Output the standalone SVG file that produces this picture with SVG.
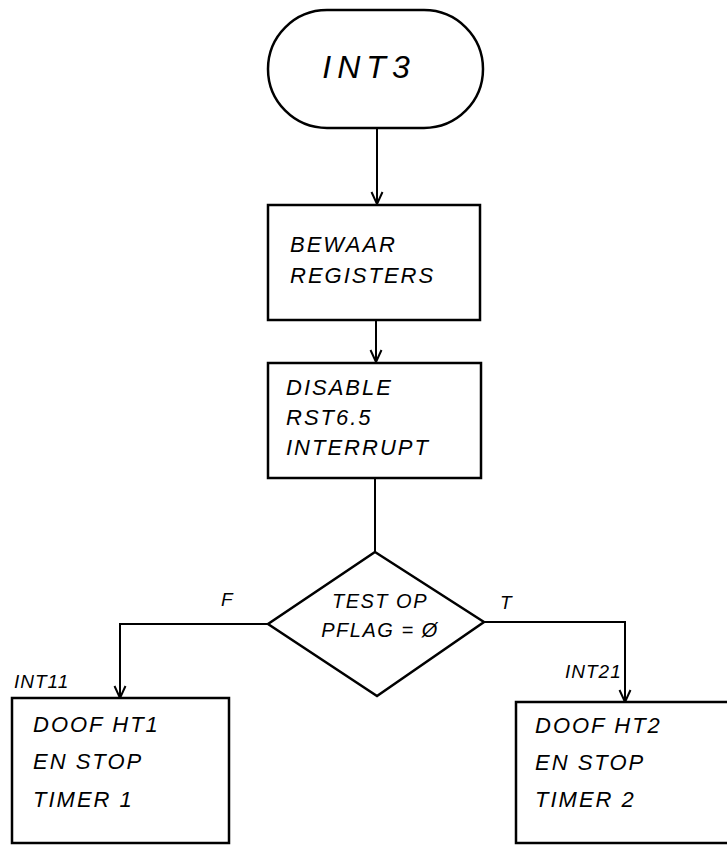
<svg xmlns="http://www.w3.org/2000/svg" width="727" height="845" viewBox="0 0 727 845">
<style>
.s{fill:#fff;stroke:#000;stroke-width:2.5}
.c{fill:none;stroke:#000;stroke-width:2}
text{font-family:"Liberation Sans",Arial,sans-serif;font-style:italic;fill:#000}
.t{font-size:22px;letter-spacing:2px}
.b{font-size:32px;letter-spacing:6px}
.l{font-size:19px;letter-spacing:1px}
.d{font-size:20px;letter-spacing:1.5px}
</style>
<defs>
<marker id="v" viewBox="0 0 14 14" refX="13" refY="7" markerWidth="14" markerHeight="14" markerUnits="userSpaceOnUse" orient="auto">
<path d="M1,1.5 L13,7 L1,12.5" fill="none" stroke="#000" stroke-width="2"/>
</marker>
</defs>
<rect width="727" height="845" fill="#fff"/>
<g id="connectors">
<line class="c" x1="377" y1="128" x2="377" y2="204" marker-end="url(#v)"/>
<line class="c" x1="376" y1="320" x2="376" y2="362" marker-end="url(#v)"/>
<line class="c" x1="375" y1="478" x2="375" y2="552"/>
<polyline class="c" points="268,624 120,624 120,698" marker-end="url(#v)"/>
<polyline class="c" points="484,622 625,622 625,702" marker-end="url(#v)"/>
<text class="l" x="221" y="606">F</text>
<text class="l" x="500" y="609">T</text>
</g>
<g id="start">
<rect class="s" x="268" y="10" width="215" height="118" rx="59" ry="59"/>
<text class="b" x="369" y="78" text-anchor="middle">INT3</text>
</g>
<g id="bewaar">
<rect class="s" x="268" y="205" width="212" height="115"/>
<text class="t" x="290" y="252">BEWAAR</text>
<text class="t" x="290" y="283">REGISTERS</text>
</g>
<g id="disable">
<rect class="s" x="268" y="363" width="213" height="115"/>
<text class="t" x="286" y="395">DISABLE</text>
<text class="t" x="286" y="425">RST6.5</text>
<text class="t" x="286" y="455">INTERRUPT</text>
</g>
<g id="test">
<polygon class="s" points="375,552 484,622 377,696 268,624"/>
<text class="d" x="380" y="608" text-anchor="middle">TEST OP</text>
<text class="d" x="380" y="637" text-anchor="middle">PFLAG = Ø</text>
</g>
<g id="int11">
<text class="l" x="14" y="688">INT11</text>
<rect class="s" x="12" y="698" width="217" height="145"/>
<text class="t" x="33" y="732">DOOF  HT1</text>
<text class="t" x="33" y="769">EN STOP</text>
<text class="t" x="33" y="807">TIMER 1</text>
</g>
<g id="int21">
<text class="l" x="565" y="678">INT21</text>
<rect class="s" x="516" y="702" width="220" height="141"/>
<text class="t" x="535" y="733">DOOF  HT2</text>
<text class="t" x="535" y="770">EN STOP</text>
<text class="t" x="535" y="807">TIMER 2</text>
</g>
</svg>
